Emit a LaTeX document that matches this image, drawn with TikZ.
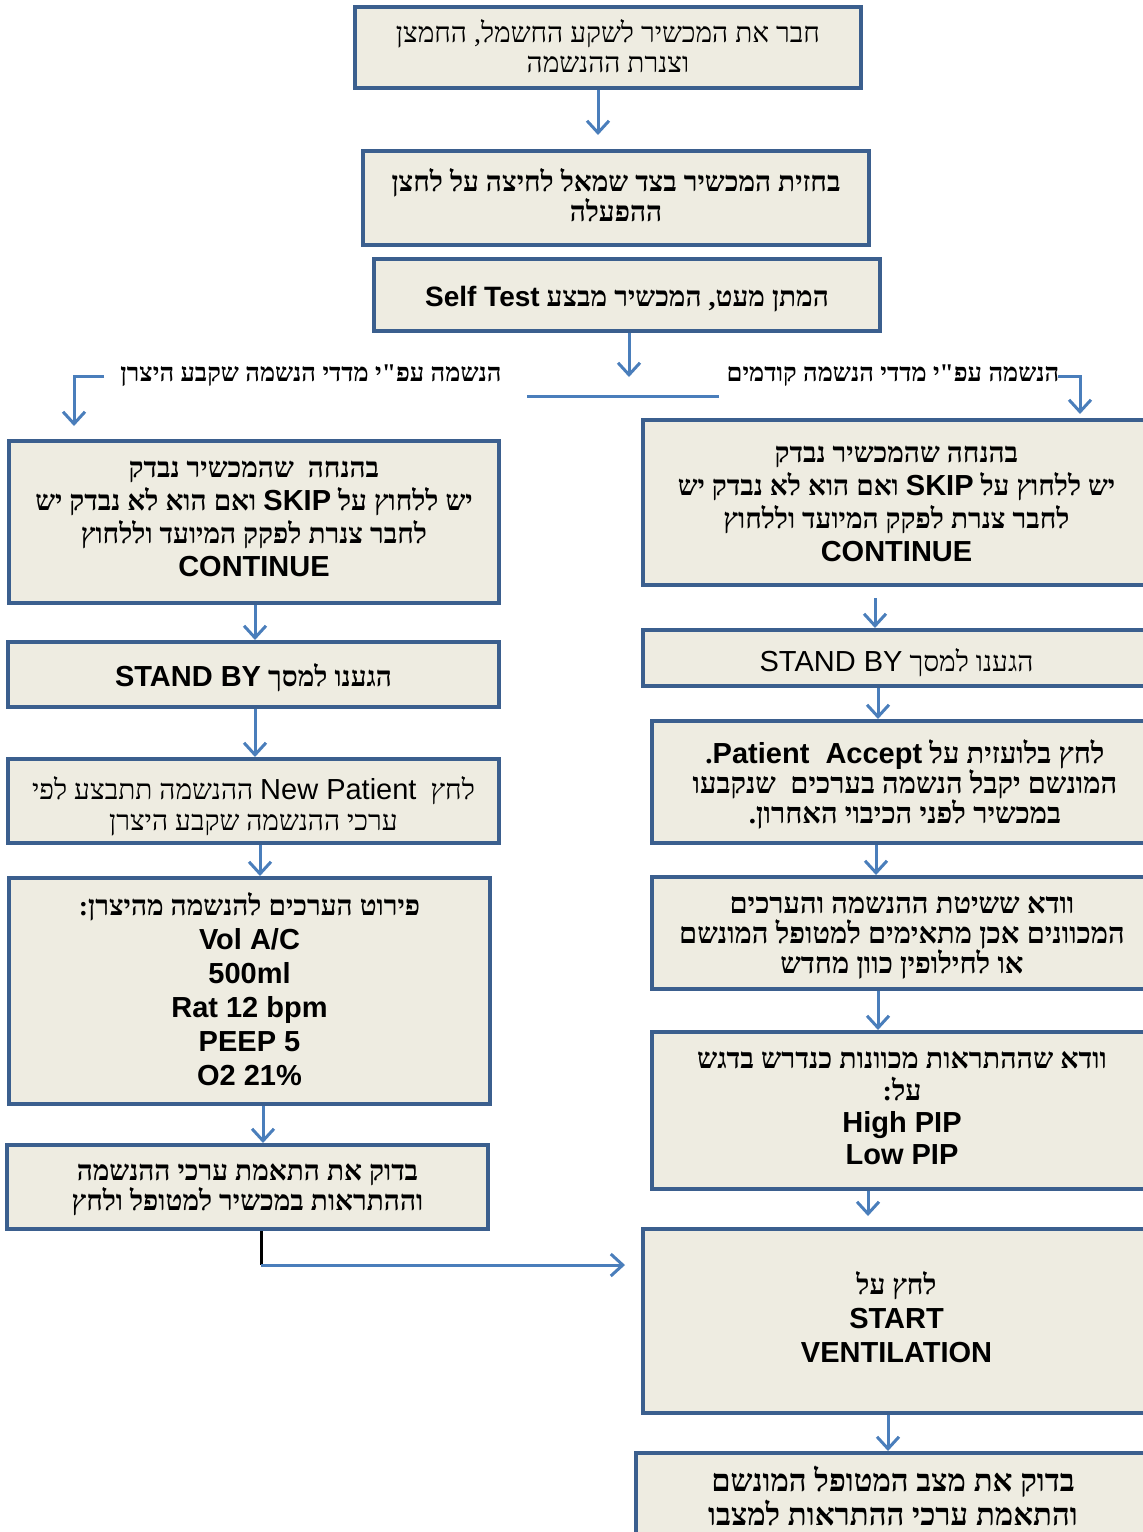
\documentclass[tikz,border=0pt]{standalone}
\usepackage{fontspec}
\setmainfont{Liberation Sans}
\newfontfamily\hebf[Script=Hebrew]{Liberation Serif}
\newfontfamily\latf{Liberation Sans}
\TeXXeTstate=1
\usetikzlibrary{arrows.meta,fit}
\newcommand{\myR}[1]{\beginR #1\endR}
\newcommand{\myL}[1]{\beginL{\latf #1}\endL{}}
\definecolor{boxfill}{HTML}{EEECE1}
\definecolor{boxline}{HTML}{3B5F8E}
\definecolor{arrowc}{HTML}{4A7EBB}
\tikzset{
  box/.style={draw=boxline, fill=boxfill, line width=2pt, inner sep=0pt, rectangle},
  txt/.style={align=center, inner sep=0pt},
  arr/.style={draw=arrowc, line width=1.5pt, -{Straight Barb[length=6pt,width=11pt]}},
  plainline/.style={draw=arrowc, line width=1.5pt},
  hreg/.style={font=\hebf\fontsize{14}{15}\selectfont},
  hbold/.style={font=\hebf\bfseries\fontsize{14}{15}\selectfont},
  lbl/.style={font=\hebf\bfseries\fontsize{12.75}{14}\selectfont, inner sep=1pt}
}
\begin{document}
\begin{tikzpicture}[x=0.5pt,y=-0.5pt]
\useasboundingbox (0,0) rectangle (1143,1532);
% boxes
\node[box, fit={(355,7)(861,88)}] (b1) {};
\node[box, fit={(363,151)(869,245)}] (b2) {};
\node[box, fit={(374,259)(880,331)}] (b3) {};
\node[box, fit={(9,441)(499,603)}] (L1) {};
\node[box, fit={(8,642)(499,707)}] (L2) {};
\node[box, fit={(8,759)(499,843)}] (L3) {};
\node[box, fit={(9,878)(490,1104)}] (L4) {};
\node[box, fit={(7,1145)(488,1229)}] (L5) {};
\node[box, fit={(643,420)(1150,585)}] (R1) {};
\node[box, fit={(643,630)(1150,686)}] (R2) {};
\node[box, fit={(652,721)(1158,843)}] (R3) {};
\node[box, fit={(652,877)(1152,989)}] (R4) {};
\node[box, fit={(652,1032)(1152,1189)}] (R5) {};
\node[box, fit={(643,1229)(1150,1413)}] (R6) {};
\node[box, fit={(636,1453)(1150,1545)}] (R7) {};
% box texts
\node[txt, hreg] (b1t) at ([yshift=0.5pt]b1.center) {\myR{חבר את המכשיר לשקע החשמל, החמצן}\\\myR{וצנרת ההנשמה}};
\node[txt, hbold] (b2t) at ([yshift=1.5pt]b2.center) {\myR{בחזית המכשיר בצד שמאל לחיצה על לחצן}\\\myR{ההפעלה}};
\node[txt, hbold] (b3t) at ([yshift=-2pt]b3.center) {\myR{המתן מעט, המכשיר מבצע \myL{Self Test}}};
\node[txt, font=\hebf\bfseries\fontsize{14}{16.5}\selectfont] (L1t) at ([yshift=1.5pt]L1.center) {\myR{בהנחה \ שהמכשיר נבדק}\\\myR{יש ללחוץ על {\latf\fontsize{14.5}{16.5}\selectfont SKIP} ואם הוא לא נבדק יש}\\\myR{לחבר צנרת לפקק המיועד וללחוץ}\\{\latf\fontsize{14.5}{16.5}\selectfont CONTINUE}};
\node[txt, hbold] (L2t) at ([yshift=-1.5pt]L2.center) {\myR{הגענו למסך \myL{\fontsize{14.5}{16}\selectfont STAND BY}}};
\node[txt, font=\hebf\fontsize{14}{15.5}\selectfont] (L3t) at ([yshift=-2.5pt]L3.center) {\myR{לחץ \ \myL{\fontsize{14.5}{15.5}\selectfont New Patient} ההנשמה תתבצע לפי}\\\myR{ערכי ההנשמה שקבע היצרן}};
\node[txt, font=\hebf\bfseries\fontsize{14}{17}\selectfont] (L4t) at ([yshift=1pt]L4.center) {\myR{פירוט הערכים להנשמה מהיצרן:}\\{\latf\fontsize{14.5}{17}\selectfont Vol A/C}\\{\latf\fontsize{14.5}{17}\selectfont 500ml}\\{\latf\fontsize{14.5}{17}\selectfont Rat 12 bpm}\\{\latf\fontsize{14.5}{17}\selectfont PEEP 5}\\{\latf\fontsize{14.5}{17}\selectfont O2 21\%}};
\node[txt, hbold] (L5t) at ([yshift=-1.5pt]L5.center) {\myR{בדוק את התאמת ערכי ההנשמה}\\\myR{וההתראות במכשיר למטופל ולחץ}};
\node[txt, font=\hebf\bfseries\fontsize{14}{16.5}\selectfont] (R1t) at ([yshift=-0.5pt]R1.center) {\myR{בהנחה שהמכשיר נבדק}\\\myR{יש ללחוץ על {\latf\fontsize{14.5}{16.5}\selectfont SKIP} ואם הוא לא נבדק יש}\\\myR{לחבר צנרת לפקק המיועד וללחוץ}\\{\latf\fontsize{14.5}{16.5}\selectfont CONTINUE}};
\node[txt, hreg] (R2t) at ([yshift=-2.5pt]R2.center) {\myR{הגענו למסך \myL{\fontsize{14.5}{15}\selectfont STAND BY}}};
\node[txt, font=\hebf\bfseries\fontsize{14.5}{15}\selectfont] (R3t) at ([yshift=-1.5pt]R3.center) {\myR{לחץ בלועזית על \myL{\fontsize{14.5}{15}\selectfont Patient\ \ Accept}.}\\\myR{המונשם יקבל הנשמה בערכים \ שנקבעו}\\\myR{במכשיר לפני הכיבוי האחרון.}};
\node[txt, font=\hebf\bfseries\fontsize{14.5}{15}\selectfont] (R4t) at ([yshift=-2.25pt]R4.center) {\myR{וודא ששיטת ההנשמה והערכים}\\\myR{המכוונים אכן מתאימים למטופל המונשם}\\\myR{או לחילופין כוון מחדש}};
\node[txt, font=\hebf\bfseries\fontsize{14.25}{16}\selectfont] (R5t) at ([yshift=1.25pt]R5.center) {\myR{וודא שההתראות מכוונות כנדרש בדגש}\\\myR{על:}\\{\latf\fontsize{14.5}{17}\selectfont High PIP}\\{\latf\fontsize{14.5}{17}\selectfont Low PIP}};
\node[txt, font=\hebf\bfseries\fontsize{14}{17}\selectfont] (R6t) at ([yshift=2pt]R6.center) {\myR{לחץ על}\\{\latf\fontsize{14.5}{17}\selectfont START}\\{\latf\fontsize{14.5}{17}\selectfont VENTILATION}};
\node[txt, font=\hebf\bfseries\fontsize{15.5}{15.5}\selectfont] (R7t) at ([yshift=1.5pt]R7.center) {\myR{בדוק את מצב המטופל המונשם}\\\myR{והתאמת ערכי ההתראות למצבו}};
% split and labels
\coordinate (sp) at (629,377);
\coordinate (spl) at (527,396);
\coordinate (spr) at (719,396);
\node[lbl] (lblL) at (311,376) {\myR{הנשמה עפ"י מדדי הנשמה שקבע היצרן}};
\node[lbl] (lblR) at (893,376) {\myR{הנשמה עפ"י מדדי הנשמה קודמים}};
% connectors
\draw[arr, shorten >=7pt] (598,0 |- b1.south) -- (598,0 |- b2.north);
\draw[arr] (629,0 |- b3.south) -- (sp);
\draw[plainline] (spl) -- (spr);
\draw[arr, shorten <=7pt, shorten >=6.5pt] (lblL.west) -| ([xshift=33.5pt]L1.north west);
\draw[arr, shorten <=-2pt, shorten >=2pt] (lblR.east) -| ([xshift=219.5pt]R1.north west);
\draw[arr] (255,0 |- L1.south) -- (255,0 |- L2.north);
\draw[arr] (255,0 |- L2.south) -- (255,0 |- L3.north);
\draw[arr] (260,0 |- L3.south) -- (260,0 |- L4.north);
\draw[arr] (263,0 |- L4.south) -- (263,0 |- L5.north);
\coordinate (jn) at (261,1265);
\draw[black, line width=1.5pt] (261,0 |- L5.south) -- (jn);
\draw[arr, shorten >=8pt] (jn) -- (R6.west |- jn);
\draw[arr, shorten <=5.5pt] (875,0 |- R1.south) -- (875,0 |- R2.north);
\draw[arr] (878,0 |- R2.south) -- (878,0 |- R3.north);
\draw[arr] (876,0 |- R3.south) -- (876,0 |- R4.north);
\draw[arr] (878,0 |- R4.south) -- (878,0 |- R5.north);
\draw[arr, shorten >=5.5pt] (868,0 |- R5.south) -- (868,0 |- R6.north);
\draw[arr] (888,0 |- R6.south) -- (888,0 |- R7.north);
\end{tikzpicture}
\end{document}
